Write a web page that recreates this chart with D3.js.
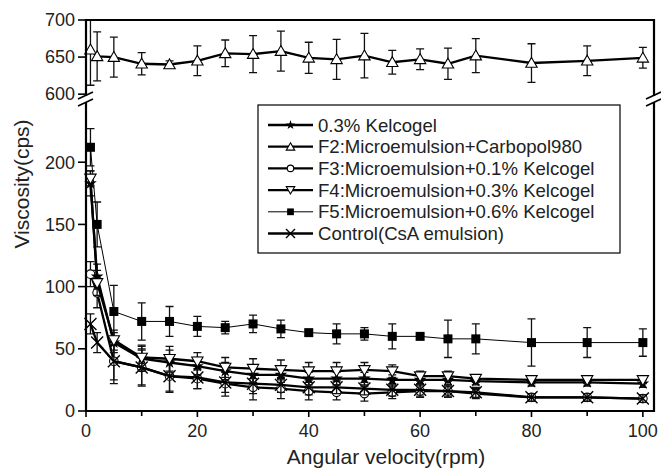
<!DOCTYPE html>
<html>
<head>
<meta charset="utf-8">
<script src="https://cdn.jsdelivr.net/npm/d3@7"></script>
<style>
  body { margin: 0; background: #fff; }
  svg { font-family: "Liberation Sans", Arial, sans-serif; }
</style>
</head>
<body>
<div id="chart"></div>
<script>
// rotation speeds (rpm)
var speeds = [0.8, 2, 5, 10, 15, 20, 25, 30, 35, 40, 45, 50, 55, 60, 65, 70, 80, 90, 100];

// viscosity (cps) and error bars for every formulation
var kelco    = [183, 108, 55, 42, 39, 36, 32, 29, 29, 26, 26, 26, 25, 25, 25, 24, 23, 23, 22];
var kelcoErr = [10, 10, 8, 10, 10, 7, 7, 6, 6, 5, 5, 5, 4, 4, 4, 3, 3, 3, 3];
var f2       = [660, 651, 650, 641, 640, 645, 655, 654, 658, 649, 647, 652, 643, 647, 641, 652, 642, 645, 649];
var f2Err    = [48, 33, 27, 15, 5, 20, 18, 25, 27, 21, 27, 30, 16, 14, 21, 23, 26, 20, 14];
var f3       = [110, 95, 40, 35, 28, 26, 22, 19, 18, 16, 15, 14, 15, 16, 16, 14, 11, 11, 10];
var f3Err    = [10, 12, 15, 14, 12, 8, 10, 10, 8, 7, 6, 6, 5, 5, 4, 4, 3, 3, 3];
var f4       = [187, 103, 57, 43, 42, 40, 35, 34, 33, 32, 32, 33, 32, 28, 28, 26, 25, 25, 25];
var f4Err    = [6, 10, 8, 10, 10, 7, 8, 8, 8, 7, 7, 6, 5, 4, 4, 3, 3, 3, 3];
var f5       = [212, 150, 80, 72, 72, 68, 67, 70, 66, 63, 62, 62, 60, 60, 58, 58, 55, 55, 55];
var f5Err    = [15, 18, 21, 15, 12, 8, 5, 7, 7, 2, 8, 5, 10, 2, 15, 12, 19, 12, 11];
var ctrl     = [70, 55, 40, 35, 28, 27, 23, 22, 21, 19, 19, 18, 17, 17, 16, 15, 11, 11, 10];
var ctrlErr  = [8, 8, 18, 15, 13, 9, 8, 8, 6, 6, 5, 5, 5, 5, 5, 4, 3, 3, 3];

var legendNames = ["0.3% Kelcogel", "F2:Microemulsion+Carbopol980",
                   "F3:Microemulsion+0.1% Kelcogel", "F4:Microemulsion+0.3% Kelcogel",
                   "F5:Microemulsion+0.6% Kelcogel", "Control(CsA emulsion)"];

var xTicks = [0, 20, 40, 60, 80, 100];
var xMinor = [10, 30, 50, 70, 90];
var yTicksLow = [0, 50, 100, 150, 200];
var yTicksTop = [600, 650, 700];

//////////////////////////////////////////////////////////////////////////////
// layout

var W = 661, H = 468;
var left = 86, right = 654;
var lowTop = 102, lowBot = 411;
var topTop = 20, topBot = 96;

var x = d3.scaleLinear().domain([0, 102]).range([left, right]);
var yLow = d3.scaleLinear().domain([0, 248.4]).range([lowBot, lowTop]);
var yTop = d3.scaleLinear().domain([597.5, 700]).range([topBot, topTop]);

var svg = d3.select("#chart").append("svg")
    .attr("width", W).attr("height", H);

// series definitions (marker, line width, panel)
var series = [
  { v: kelco, e: kelcoErr, sym: "star",  lw: 2.3, y: yLow },
  { v: f2,    e: f2Err,    sym: "tri",   lw: 2.3, y: yTop },
  { v: f3,    e: f3Err,    sym: "circ",  lw: 2.3, y: yLow },
  { v: f4,    e: f4Err,    sym: "dtri",  lw: 2.3, y: yLow },
  { v: f5,    e: f5Err,    sym: "sq",    lw: 1,   y: yLow },
  { v: ctrl,  e: ctrlErr,  sym: "cross", lw: 2.3, y: yLow }
];

function drawMarker(g, sym, cx, cy, s) {
  if (sym === "tri") {
    g.append("path")
      .attr("d", d3.symbol(d3.symbolTriangle, 56 * s * s)())
      .attr("transform", "translate(" + cx + "," + (cy + 1) + ")")
      .attr("fill", "#fff").attr("stroke", "#000").attr("stroke-width", 1.1);
  } else if (sym === "dtri") {
    g.append("path")
      .attr("d", d3.symbol(d3.symbolTriangle, 56 * s * s)())
      .attr("transform", "translate(" + cx + "," + (cy - 1) + ") rotate(180)")
      .attr("fill", "#fff").attr("stroke", "#000").attr("stroke-width", 1.1);
  } else if (sym === "circ") {
    g.append("circle").attr("cx", cx).attr("cy", cy).attr("r", 4.3 * s)
      .attr("fill", "#fff").attr("stroke", "#000").attr("stroke-width", 1.1);
  } else if (sym === "sq") {
    var a = 9 * s;
    g.append("rect").attr("x", cx - a / 2).attr("y", cy - a / 2)
      .attr("width", a).attr("height", a).attr("fill", "#000");
  } else if (sym === "star") {
    g.append("path")
      .attr("d", d3.symbol(d3.symbolStar, 50 * s * s)())
      .attr("transform", "translate(" + cx + "," + cy + ")")
      .attr("fill", "#000");
  } else if (sym === "cross") {
    var r = 6 * s;
    g.append("path")
      .attr("d", "M" + (cx - r) + "," + (cy - r) + "L" + (cx + r) + "," + (cy + r) +
                 "M" + (cx - r) + "," + (cy + r) + "L" + (cx + r) + "," + (cy - r))
      .attr("stroke", "#000").attr("stroke-width", 1.4);
  }
}

// clip region for the upper panel
svg.append("clipPath").attr("id", "clipTop").append("rect")
  .attr("x", left - 10).attr("y", topTop).attr("width", right - left + 20).attr("height", topBot - topTop + 10);

var plot = svg.append("g");

// draw F5 first (thin), then the rest
var order = [4, 2, 5, 0, 3, 1];
order.forEach(function(i) {
  var s = series[i];
  var g = plot.append("g");
  if (s.y === yTop) g.attr("clip-path", "url(#clipTop)");
  var pts = speeds.map(function(sp, k) { return [sp, s.v[k], s.e[k]]; });

  // error bars
  pts.forEach(function(p) {
    var xx = x(p[0]), y1 = s.y(p[1] + p[2]), y2 = s.y(p[1] - p[2]);
    g.append("path")
      .attr("d", "M" + xx + "," + y1 + "V" + y2 +
                 "M" + (xx - 4) + "," + y1 + "H" + (xx + 4) +
                 "M" + (xx - 4) + "," + y2 + "H" + (xx + 4))
      .attr("stroke", "#111").attr("stroke-width", 1.3).attr("fill", "none");
  });

  g.append("path")
    .datum(pts)
    .attr("d", d3.line().x(function(d) { return x(d[0]); }).y(function(d) { return s.y(d[1]); }))
    .attr("fill", "none").attr("stroke", "#000").attr("stroke-width", s.lw);

  pts.forEach(function(p) { drawMarker(g, s.sym, x(p[0]), s.y(p[1]), 1); });
});

//////////////////////////////////////////////////////////////////////////////
// frame and axes

var frame = svg.append("g").attr("stroke", "#000").attr("stroke-width", 2.2).attr("fill", "none");
frame.append("path").attr("d", "M" + left + "," + topBot + "V" + topTop + "H" + right + "V" + topBot);
frame.append("path").attr("d", "M" + left + "," + lowTop + "V" + lowBot + "H" + right + "V" + lowTop);

// break marks
[left, right].forEach(function(bx) {
  frame.append("path")
    .attr("d", "M" + (bx - 8) + "," + (topBot + 3) + "L" + (bx + 7) + "," + (topBot - 4) +
               "M" + (bx - 8) + "," + (lowTop + 4) + "L" + (bx + 7) + "," + (lowTop - 3))
    .attr("stroke-width", 1.6);
});

var fontTick = 18;

// y ticks
function yAxis(scale, ticks) {
  ticks.forEach(function(t) {
    var yy = scale(t);
    svg.append("line").attr("x1", left - 8).attr("x2", left).attr("y1", yy).attr("y2", yy)
      .attr("stroke", "#000").attr("stroke-width", 1.6);
    svg.append("text").attr("x", left - 11).attr("y", yy).attr("dy", "0.35em")
      .attr("text-anchor", "end").attr("font-size", fontTick).attr("fill", "#222").text(t);
  });
}
yAxis(yLow, yTicksLow);
yAxis(yTop, yTicksTop);

// x ticks
xTicks.forEach(function(t) {
  svg.append("line").attr("x1", x(t)).attr("x2", x(t)).attr("y1", lowBot).attr("y2", lowBot + 6)
    .attr("stroke", "#000").attr("stroke-width", 1.6);
  svg.append("text").attr("x", x(t)).attr("y", lowBot + 26)
    .attr("text-anchor", "middle").attr("font-size", fontTick).attr("fill", "#222").text(t);
});
xMinor.forEach(function(t) {
  svg.append("line").attr("x1", x(t)).attr("x2", x(t)).attr("y1", lowBot).attr("y2", lowBot + 5)
    .attr("stroke", "#000").attr("stroke-width", 1.6);
});

svg.append("text").attr("x", (left + right) / 2 + 16).attr("y", 464)
  .attr("text-anchor", "middle").attr("font-size", 21).attr("fill", "#222")
  .text("Angular velocity(rpm)");

svg.append("text").attr("transform", "translate(29,184) rotate(-90)")
  .attr("text-anchor", "middle").attr("font-size", 21).attr("fill", "#222")
  .text("Viscosity(cps)");

//////////////////////////////////////////////////////////////////////////////
// legend

var lg = svg.append("g");
lg.append("rect").attr("x", 258).attr("y", 105).attr("width", 362).attr("height", 148)
  .attr("fill", "#fff").attr("stroke", "#000").attr("stroke-width", 1.2);

legendNames.forEach(function(name, i) {
  var yy = 125 + i * 21.7;
  var s = series[i];
  lg.append("line").attr("x1", 268).attr("x2", 313).attr("y1", yy).attr("y2", yy)
    .attr("stroke", "#000").attr("stroke-width", s.lw);
  drawMarker(lg, s.sym, 290.5, yy, 0.75);
  lg.append("text").attr("x", 318).attr("y", yy).attr("dy", "0.35em")
    .attr("font-size", 18.6).attr("fill", "#222").text(name);
});
</script>
</body>
</html>
